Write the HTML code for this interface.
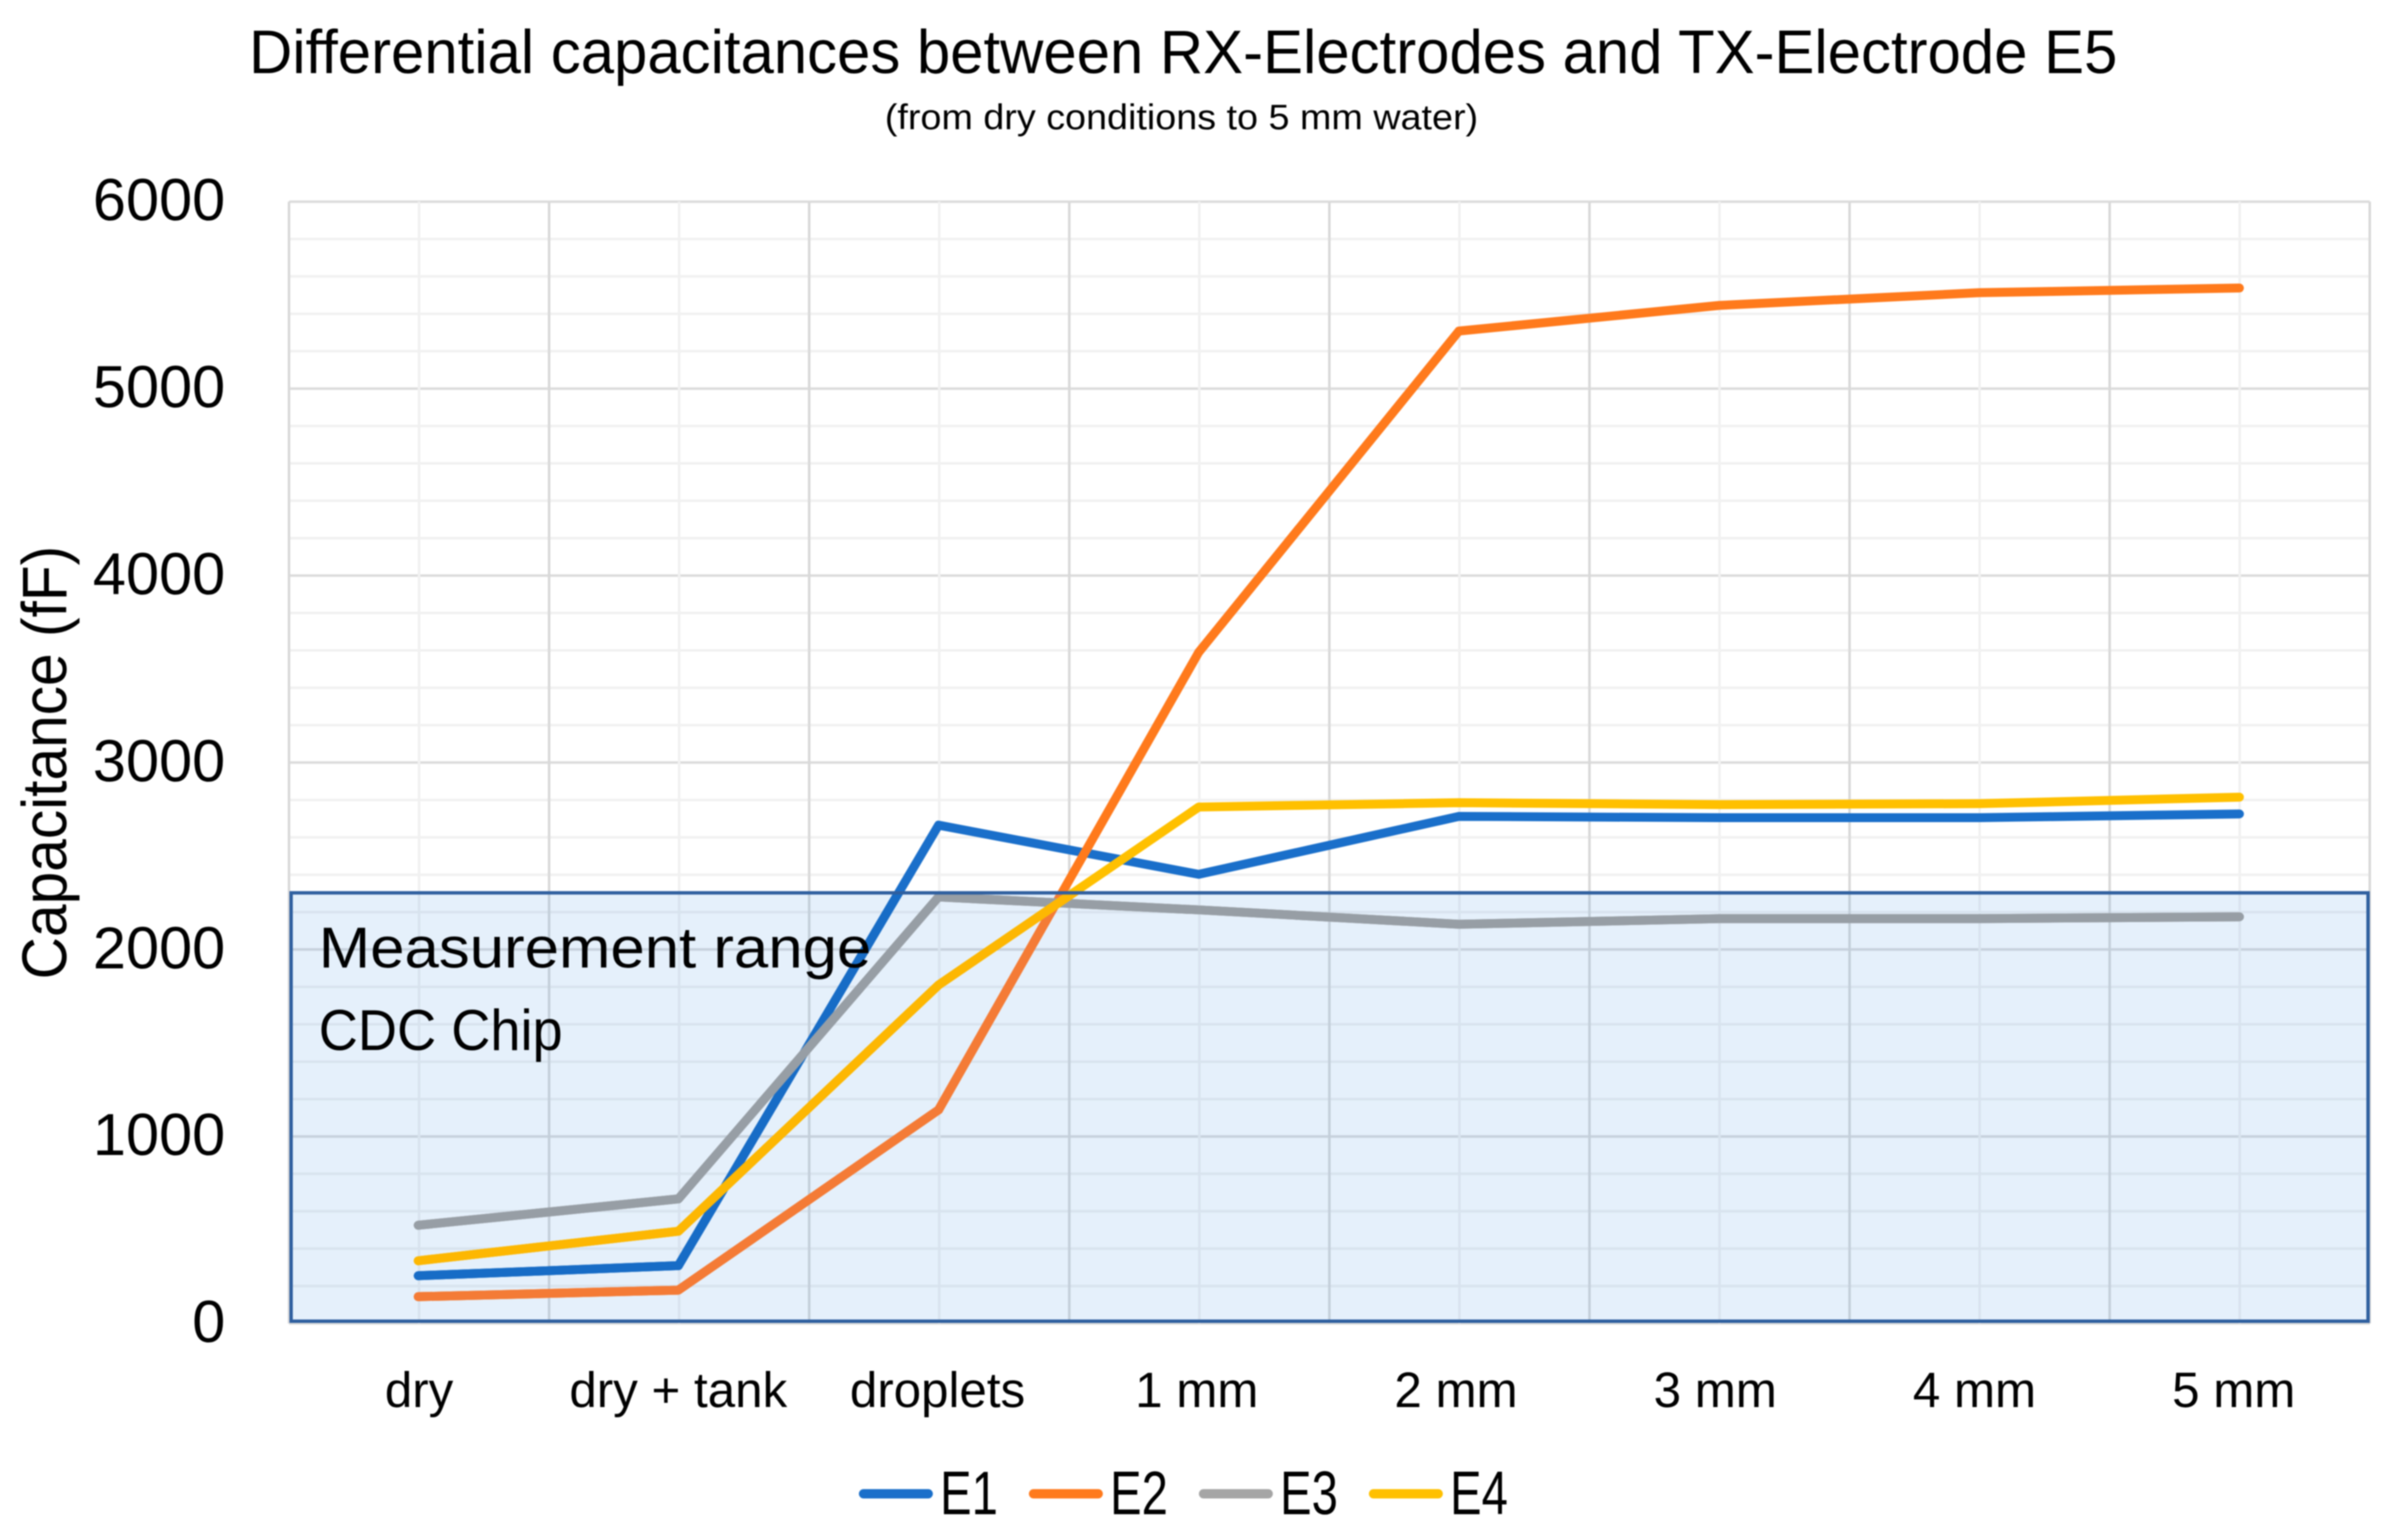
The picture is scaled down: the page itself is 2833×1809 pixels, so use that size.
<!DOCTYPE html>
<html lang="en">
<head>
<meta charset="utf-8">
<title>Differential capacitances between RX-Electrodes and TX-Electrode E5</title>
<style>
html,body{margin:0;padding:0;background:#fff;}
body{width:2833px;height:1809px;overflow:hidden;}
svg{display:block;filter:blur(0.7px);}
text{font-family:"Liberation Sans",sans-serif;fill:#000;}
</style>
</head>
<body>
<svg id="chart" xmlns="http://www.w3.org/2000/svg" width="2833" height="1809" viewBox="0 0 2833 1809">
  <defs><clipPath id="range-clip"><rect id="range-clip-rect" x="342.5" y="1050" width="2443.5" height="504"/></clipPath></defs>
  <rect x="0" y="0" width="2833" height="1809" fill="#fff"/>
  <text x="293" y="86" font-size="72" textLength="2198" lengthAdjust="spacingAndGlyphs">Differential capacitances between RX-Electrodes and TX-Electrode E5</text>
  <text x="1041" y="152" font-size="42" textLength="698" lengthAdjust="spacingAndGlyphs">(from dry conditions to 5 mm water)</text>
  <text transform="translate(78,1152) rotate(-90)" x="0" y="0" font-size="74" textLength="510" lengthAdjust="spacingAndGlyphs">Capacitance (fF)</text>
  <g id="grid"></g>
  <g id="yticks"></g>
  <g id="xticks"></g>
  <g id="range-fill"></g>
  <g id="lines"></g>
  <g id="range"></g>
  <text x="375" y="1138" font-size="68" textLength="650" lengthAdjust="spacingAndGlyphs">Measurement range</text>
  <text x="375" y="1235" font-size="68" textLength="287" lengthAdjust="spacingAndGlyphs">CDC Chip</text>
  <g id="legend"></g>
</svg>
<script>
const categories = ["dry", "dry + tank", "droplets", "1 mm", "2 mm", "3 mm", "4 mm", "5 mm"];
const yTicks = [0, 1000, 2000, 3000, 4000, 5000, 6000];
const seriesNames = ["E1", "E2", "E3", "E4"];
const seriesColors = ["#1a6fca", "#ff7a1c", "#a5a5a5", "#ffc000"];
const seriesColorsInRange = ["#176cc6", "#f47b36", "#979ea5", "#fdb702"];
const e1Values = [255, 309, 2665, 2402, 2712, 2705, 2705, 2725];
const e2Values = [143, 178, 1142, 3590, 5308, 5445, 5513, 5538];
const e3Values = [525, 666, 2281, 2212, 2135, 2165, 2165, 2175];
const e4Values = [335, 493, 1810, 2762, 2785, 2775, 2780, 2815];
const measurementRangeMax = 2303;

const NS = "http://www.w3.org/2000/svg";
const allSeries = [e1Values, e2Values, e3Values, e4Values];

function xPos(i) { return 492 + 306.1 * i; }
function labelX(i) { return 493 + 305 * i; }
function yPos(v) { return 1556.6 - v * 0.2199; }
function legendX(i) { return 1016 + 200 * i; }

function make(tag, attrs) {
  const el = document.createElementNS(NS, tag);
  for (const k in attrs) el.setAttribute(k, attrs[k]);
  return el;
}

const grid = document.getElementById("grid");
const plotLeft = 340, plotRight = 2788;
const plotTop = yPos(6000), plotBottom = yPos(0);

for (let v = 0; v <= 6000; v += 200) {
  const major = v % 1000 === 0;
  const line = make("line", {
    x1: plotLeft, x2: plotRight, y1: yPos(v), y2: yPos(v),
    stroke: major ? "#dcdcdc" : "#f1f1f1", "stroke-width": 3
  });
  
  
  grid.appendChild(line);
}
for (let k = 0; k <= 16; k++) {
  const major = k % 2 === 0;
  const px = plotLeft + (plotRight - plotLeft) * k / 16;
  const line = make("line", {
    x1: px, x2: px, y1: plotTop, y2: plotBottom,
    stroke: major ? "#d9d9d9" : "#f1f1f1", "stroke-width": 3
  });
  
  
  grid.appendChild(line);
}

const yGroup = document.getElementById("yticks");
yTicks.forEach(function (t) {
  const el = make("text", { x: 265, y: yPos(t) + 22, "font-size": 70, "text-anchor": "end" });
  el.textContent = String(t);
  
  
  yGroup.appendChild(el);
});

const xGroup = document.getElementById("xticks");
categories.forEach(function (c, i) {
  const el = make("text", { x: labelX(i), y: 1655, "font-size": 58, "text-anchor": "middle" });
  el.textContent = c;
  
  
  xGroup.appendChild(el);
});

const rangeTop = yPos(measurementRangeMax);
const clipRect = document.getElementById("range-clip-rect");
clipRect.setAttribute("y", rangeTop);
clipRect.setAttribute("height", 1554 - rangeTop);

const fillGroup = document.getElementById("range-fill");
const rangeFill = make("rect", {
  x: 342.5, y: rangeTop, width: 2443.5, height: 1554 - rangeTop,
  fill: "rgba(60,140,225,0.133)"
});


fillGroup.appendChild(rangeFill);

const lineGroup = document.getElementById("lines");
allSeries.forEach(function (vals, s) {
  const pts = vals.map(function (v, i) { return xPos(i) + "," + yPos(v); }).join(" ");
  const pl = make("polyline", {
    points: pts, fill: "none", stroke: seriesColors[s], "stroke-width": 10.5,
    "stroke-linecap": "round", "stroke-linejoin": "round"
  });
  
  
  lineGroup.appendChild(pl);
  const inner = make("polyline", {
    points: pts, fill: "none", stroke: seriesColorsInRange[s], "stroke-width": 10.5,
    "stroke-linecap": "round", "stroke-linejoin": "round", "clip-path": "url(#range-clip)"
  });
  
  
  lineGroup.appendChild(inner);
});

const rangeGroup = document.getElementById("range");
const rangeRect = make("rect", {
  x: 342.5, y: rangeTop, width: 2443.5, height: 1554 - rangeTop,
  fill: "none", stroke: "#2f5f9f", "stroke-width": 4
});


rangeGroup.appendChild(rangeRect);

const legendGroup = document.getElementById("legend");
seriesNames.forEach(function (name, i) {
  const lx = legendX(i);
  const key = make("line", {
    x1: lx, x2: lx + 76, y1: 1757, y2: 1757,
    stroke: seriesColors[i], "stroke-width": 11, "stroke-linecap": "round"
  });
  
  
  legendGroup.appendChild(key);
  const label = make("text", {
    x: lx + 90, y: 1781, "font-size": 72, textLength: 68, lengthAdjust: "spacingAndGlyphs"
  });
  label.textContent = name;
  
  
  legendGroup.appendChild(label);
});
</script>
</body>
</html>
